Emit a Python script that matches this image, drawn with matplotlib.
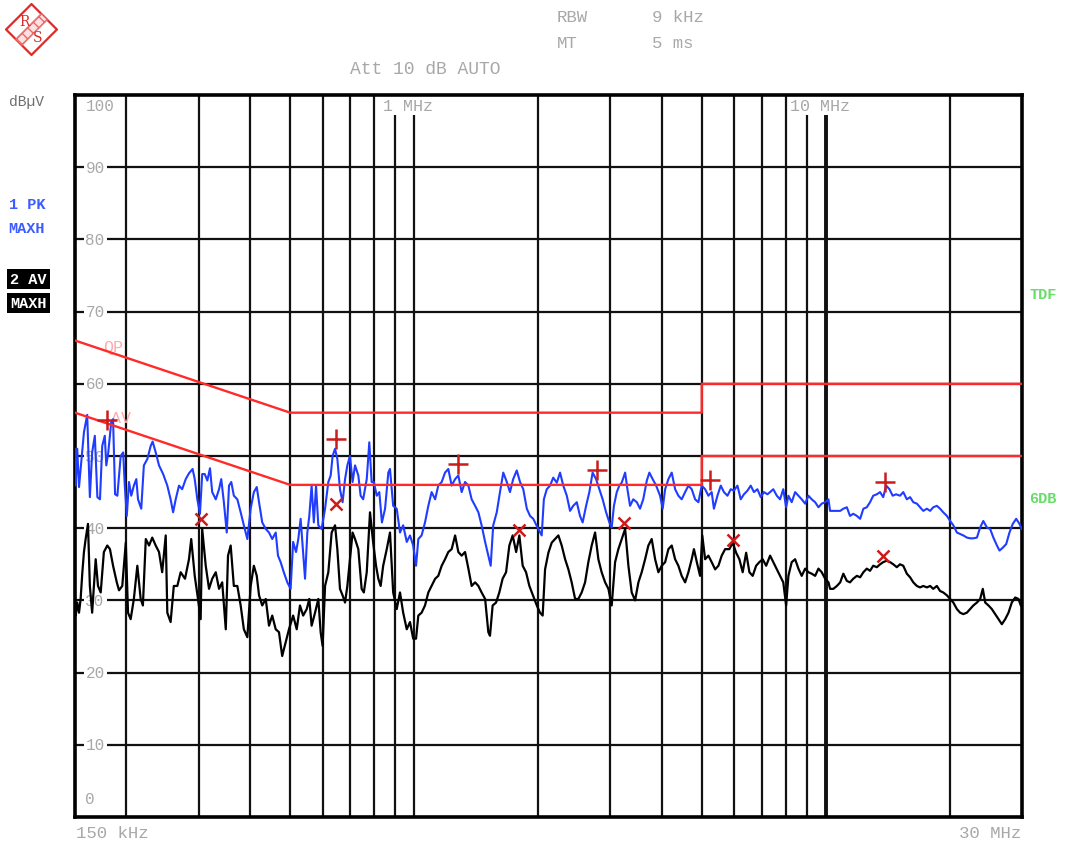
import matplotlib
matplotlib.use("Agg")
import matplotlib.pyplot as plt
from matplotlib.patches import Polygon
import matplotlib.transforms as mtrans

# ---------------- data ----------------
pk_freq_mhz = [0.1500, 0.1506, 0.1519, 0.1534, 0.1553, 0.1577, 0.1606, 0.1630, 0.1651, 0.1676,
               0.1700, 0.1725, 0.1747, 0.1772, 0.1787, 0.1807, 0.1837, 0.1856, 0.1877, 0.1901,
               0.1937, 0.1964, 0.1982, 0.2004, 0.2029, 0.2055, 0.2085, 0.2114, 0.2134, 0.2173,
               0.2205, 0.2249, 0.2291, 0.2316, 0.2356, 0.2400, 0.2456, 0.2514, 0.2561, 0.2597,
               0.2635, 0.2684, 0.2732, 0.2787, 0.2838, 0.2896, 0.2931, 0.2974, 0.3018, 0.3056,
               0.3100, 0.3145, 0.3192, 0.3232, 0.3297, 0.3358, 0.3400, 0.3450, 0.3506, 0.3551,
               0.3596, 0.3648, 0.3720, 0.3790, 0.3858, 0.3934, 0.4008, 0.4080, 0.4147, 0.4200,
               0.4276, 0.4361, 0.4441, 0.4522, 0.4611, 0.4670, 0.4740, 0.4824, 0.4920, 0.5012,
               0.5083, 0.5166, 0.5232, 0.5301, 0.5358, 0.5433, 0.5503, 0.5564, 0.5637, 0.5707,
               0.5778, 0.5852, 0.5961, 0.6077, 0.6189, 0.6271, 0.6339, 0.6426, 0.6509, 0.6606,
               0.6703, 0.6796, 0.6884, 0.6986, 0.7089, 0.7187, 0.7320, 0.7416, 0.7521, 0.7673,
               0.7784, 0.7886, 0.7984, 0.8114, 0.8232, 0.8353, 0.8501, 0.8658, 0.8739, 0.8896,
               0.9075, 0.9242, 0.9408, 0.9598, 0.9774, 0.9950, 1.011, 1.024, 1.043, 1.063,
               1.083, 1.103, 1.125, 1.145, 1.167, 1.189, 1.211, 1.234, 1.258, 1.281,
               1.305, 1.330, 1.355, 1.380, 1.407, 1.433, 1.459, 1.488, 1.515, 1.535,
               1.557, 1.588, 1.617, 1.647, 1.680, 1.710, 1.741, 1.776, 1.809, 1.842,
               1.879, 1.913, 1.948, 1.987, 2.042, 2.067, 2.101, 2.140, 2.178, 2.222,
               2.263, 2.304, 2.350, 2.393, 2.436, 2.485, 2.530, 2.568, 2.618, 2.666,
               2.715, 2.768, 2.819, 2.872, 2.928, 2.982, 3.021, 3.059, 3.108, 3.153,
               3.195, 3.257, 3.299, 3.348, 3.408, 3.477, 3.540, 3.604, 3.677, 3.730,
               3.799, 3.874, 3.960, 4.018, 4.074, 4.149, 4.227, 4.308, 4.387, 4.469,
               4.556, 4.640, 4.727, 4.818, 4.907, 4.999, 5.095, 5.189, 5.286, 5.352,
               5.459, 5.561, 5.661, 5.773, 5.881, 5.986, 6.105, 6.219, 6.331, 6.456,
               6.577, 6.695, 6.827, 6.955, 7.080, 7.221, 7.329, 7.461, 7.610, 7.749,
               7.889, 8.017, 8.120, 8.271, 8.431, 8.587, 8.747, 8.917, 9.082, 9.251,
               9.430, 9.605, 9.784, 9.973, 10.16, 10.25, 10.55, 10.85, 11.04, 11.26,
               11.46, 11.67, 11.91, 12.13, 12.35, 12.59, 12.82, 13.05, 13.32, 13.56,
               13.80, 14.03, 14.29, 14.55, 14.83, 15.16, 15.44, 15.75, 16.04, 16.33,
               16.66, 16.96, 17.27, 17.62, 17.94, 18.26, 18.63, 18.97, 19.31, 19.71,
               20.07, 20.43, 20.84, 21.22, 21.60, 22.04, 22.44, 22.85, 23.31, 23.74,
               24.16, 24.65, 25.10, 25.56, 26.08, 26.45, 26.94, 27.46, 27.97, 28.49,
               29.04, 29.58, 29.95]
pk_level_dbuv = [51.0, 45.9, 51.0, 45.7, 49.1, 53.3, 55.7, 44.3, 50.5, 52.8,
                 44.3, 44.0, 51.4, 52.8, 48.7, 50.5, 54.7, 55.1, 44.7, 44.5,
                 50.0, 50.5, 45.9, 41.7, 46.4, 44.5, 45.9, 46.8, 44.0, 42.7,
                 48.7, 49.6, 51.4, 52.0, 50.5, 48.7, 47.5, 45.9, 44.0, 42.2,
                 44.0, 45.9, 45.4, 46.8, 47.6, 48.2, 46.8, 44.0, 42.0, 47.5,
                 47.5, 46.6, 48.3, 45.0, 44.0, 45.4, 46.8, 43.6, 39.4, 45.9,
                 46.4, 44.5, 44.0, 42.2, 40.4, 38.5, 42.7, 45.0, 45.7, 43.6,
                 40.8, 39.9, 39.4, 38.5, 39.4, 36.2, 35.3, 33.9, 32.5, 31.6,
                 38.1, 36.7, 38.5, 41.3, 37.6, 33.0, 39.4, 41.7, 45.9, 40.8,
                 45.9, 40.4, 39.9, 42.7, 46.4, 47.3, 50.0, 51.0, 49.6, 45.4,
                 43.6, 46.8, 48.7, 50.0, 46.4, 48.7, 47.3, 44.5, 44.0, 46.8,
                 51.9, 46.4, 46.4, 44.5, 45.0, 40.8, 42.7, 47.7, 48.2, 43.1,
                 42.7, 39.4, 40.4, 38.1, 39.0, 37.6, 34.8, 38.5, 39.0, 40.8,
                 43.1, 45.0, 44.0, 45.9, 46.4, 47.7, 48.2, 45.9, 46.8, 47.3,
                 45.0, 46.4, 45.9, 44.0, 43.1, 42.2, 40.4, 38.1, 36.2, 34.8,
                 40.4, 42.2, 45.0, 47.7, 46.4, 45.0, 46.8, 48.0, 46.4, 45.4,
                 42.7, 41.7, 41.3, 40.3, 39.0, 44.0, 45.4, 45.9, 47.0, 46.3,
                 47.7, 45.9, 44.5, 42.4, 43.1, 43.6, 41.7, 40.8, 43.1, 45.0,
                 47.7, 46.8, 45.4, 44.0, 42.2, 40.8, 40.1, 43.1, 45.0, 45.9,
                 46.3, 47.7, 45.4, 43.1, 44.0, 43.6, 42.7, 44.0, 46.6, 47.7,
                 46.8, 45.9, 44.5, 42.7, 45.4, 46.8, 47.7, 45.4, 44.5, 44.0,
                 45.0, 45.9, 45.4, 44.0, 43.6, 45.9, 45.4, 44.5, 45.0, 42.7,
                 44.5, 45.9, 45.0, 44.5, 45.4, 45.2, 45.9, 44.0, 44.7, 45.2,
                 45.9, 45.0, 45.4, 44.3, 45.0, 44.7, 45.0, 45.4, 44.5, 44.0,
                 45.4, 42.9, 44.5, 43.6, 45.0, 44.5, 44.0, 43.4, 44.5, 44.0,
                 43.6, 42.9, 43.4, 43.6, 44.0, 42.4, 42.4, 42.4, 42.7, 42.9,
                 41.7, 42.0, 41.7, 41.3, 42.7, 42.9, 43.6, 44.5, 44.7, 45.0,
                 44.3, 45.9, 45.4, 44.5, 44.7, 44.5, 45.0, 44.0, 44.3, 43.6,
                 43.4, 42.9, 42.4, 42.7, 42.4, 42.9, 43.1, 42.7, 42.2, 41.7,
                 41.0, 40.4, 39.4, 39.2, 39.0, 38.7, 38.6, 38.6, 38.7, 40.1,
                 41.0, 40.1, 39.9, 38.7, 37.6, 36.9, 37.3, 37.8, 39.4, 40.6,
                 41.3, 40.6, 39.9]

av_freq_mhz = [0.1500, 0.1506, 0.1519, 0.1534, 0.1548, 0.1563, 0.1577, 0.1592, 0.1613, 0.1630,
               0.1651, 0.1684, 0.1706, 0.1732, 0.1763, 0.1797, 0.1824, 0.1856, 0.1895, 0.1919,
               0.1954, 0.1993, 0.2018, 0.2048, 0.2085, 0.2126, 0.2166, 0.2193, 0.2229, 0.2270,
               0.2311, 0.2356, 0.2400, 0.2443, 0.2492, 0.2514, 0.2561, 0.2607, 0.2659, 0.2709,
               0.2776, 0.2838, 0.2874, 0.2931, 0.2985, 0.3030, 0.3056, 0.3117, 0.3175, 0.3232,
               0.3297, 0.3358, 0.3418, 0.3487, 0.3531, 0.3584, 0.3648, 0.3720, 0.3790, 0.3858,
               0.3934, 0.4008, 0.4080, 0.4147, 0.4200, 0.4276, 0.4361, 0.4441, 0.4522, 0.4611,
               0.4696, 0.4781, 0.4876, 0.4966,
               0.5083, 0.5186, 0.5281, 0.5376, 0.5485, 0.5564, 0.5637, 0.5746, 0.5852, 0.5929,
               0.5994, 0.6077, 0.6189, 0.6305, 0.6426, 0.6509, 0.6606, 0.6703, 0.6796, 0.6884,
               0.6986, 0.7089, 0.7187, 0.7320, 0.7457, 0.7549, 0.7673, 0.7814, 0.7954, 0.8083,
               0.8187, 0.8294, 0.8412, 0.8582, 0.8739, 0.8896, 0.9075, 0.9242, 0.9408, 0.9598,
               0.9774, 0.9950, 1.011, 1.024, 1.043, 1.063, 1.083, 1.103, 1.125, 1.145,
               1.167, 1.189, 1.211, 1.234, 1.258, 1.281, 1.305, 1.330, 1.355, 1.380,
               1.407, 1.433, 1.459, 1.488, 1.515, 1.529, 1.552, 1.582, 1.611, 1.641,
               1.673, 1.704, 1.736, 1.770, 1.802, 1.836, 1.871, 1.906,
               1.948, 1.987, 2.023, 2.053, 2.081, 2.120, 2.160, 2.201, 2.242, 2.284,
               2.328, 2.371, 2.415, 2.462, 2.507, 2.554, 2.603, 2.651, 2.701, 2.753,
               2.804, 2.856, 2.912, 2.966, 3.021, 3.079, 3.136, 3.195, 3.257, 3.317,
               3.379, 3.444, 3.508, 3.573, 3.642, 3.709, 3.779, 3.852, 3.923, 3.997,
               4.074, 4.149, 4.227, 4.308, 4.387, 4.469, 4.556, 4.640, 4.727, 4.786,
               4.864, 4.953, 5.015, 5.095, 5.189, 5.286, 5.389, 5.489, 5.591, 5.699,
               5.836, 5.945, 6.061, 6.172, 6.287, 6.410, 6.528, 6.649, 6.778, 6.902,
               7.031, 7.169,
               7.329, 7.461, 7.610, 7.749, 7.889, 8.017, 8.120, 8.271, 8.431, 8.587,
               8.747, 8.917, 9.082, 9.251, 9.430, 9.605, 9.784, 9.973, 10.16, 10.25,
               10.44, 10.65, 10.85, 11.04, 11.26, 11.46, 11.67, 11.91, 12.13, 12.35,
               12.59, 12.82, 13.05, 13.32, 13.56, 13.80, 14.08, 14.34, 14.60, 14.89,
               15.16, 15.44, 15.75, 16.04, 16.33, 16.66, 16.96, 17.27, 17.62, 17.94,
               18.26, 18.63, 18.97, 19.31, 19.71, 20.07, 20.43, 20.84, 21.22, 21.60,
               22.04, 22.44, 22.85, 23.31, 23.74, 24.09, 24.42, 24.87, 25.34, 25.83,
               26.31, 26.80, 27.31, 27.82, 28.33, 28.88, 29.41, 29.80]
av_level_dbuv = [30.2, 27.9, 29.7, 28.3, 30.2, 33.9, 36.7, 38.5, 40.6, 32.0,
                 28.3, 35.7, 32.0, 31.1, 36.7, 37.6, 37.1, 34.8, 32.5, 31.4,
                 32.0, 38.0, 28.3, 27.4, 30.2, 34.8, 30.2, 29.3, 38.5, 37.6,
                 38.7, 37.6, 36.7, 33.9, 39.0, 28.3, 27.0, 32.0, 32.0, 33.9,
                 33.0, 35.7, 38.5, 33.4, 30.2, 27.4, 39.9, 34.8, 31.6, 33.0,
                 33.9, 31.6, 32.5, 26.0, 36.2, 37.6, 32.0, 32.0, 29.3, 26.0,
                 24.9, 32.0, 34.8, 33.4, 30.7, 29.3, 30.2, 26.5, 27.9, 26.0,
                 25.6, 22.3, 24.2, 26.0,
                 27.9, 26.0, 29.3, 27.9, 28.8, 30.2, 26.5, 28.3, 30.2, 25.6,
                 23.7, 32.0, 33.9, 39.4, 40.4, 37.1, 31.6, 30.7, 29.7, 32.0,
                 35.7, 39.4, 38.5, 37.1, 31.6, 31.1, 33.9, 42.2, 38.0, 34.8,
                 33.0, 32.0, 34.8, 37.1, 39.4, 31.1, 28.8, 31.1, 28.3, 26.0,
                 27.0, 24.7, 24.7, 27.9, 28.3, 29.3, 31.1, 32.0, 33.0, 33.4,
                 34.8, 35.7, 36.7, 37.1, 39.0, 36.7, 36.2, 36.7, 34.4, 32.0,
                 32.5, 32.0, 31.1, 30.2, 25.6, 25.1, 29.3, 29.7, 31.1, 33.0,
                 33.9, 37.6, 39.0, 36.7, 39.0, 34.8, 33.9, 32.0,
                 30.6, 29.3, 28.3, 27.9, 34.3, 36.6, 38.0, 38.5, 39.0, 37.6,
                 35.7, 34.3, 32.5, 30.2, 30.2, 31.1, 32.5, 35.3, 37.6, 39.4,
                 35.7, 33.9, 32.5, 31.6, 29.3, 35.3, 37.1, 38.5, 39.9, 34.8,
                 31.1, 30.0, 32.5, 33.9, 35.7, 37.6, 38.5, 35.7, 33.9, 34.8,
                 35.3, 37.1, 37.6, 35.7, 34.8, 33.4, 32.5, 33.9, 35.7, 37.1,
                 35.3, 33.4, 39.0, 35.7, 36.2, 35.3, 34.3, 34.8, 36.2, 37.1,
                 37.1, 38.0, 36.6, 35.7, 33.9, 36.6, 33.9, 33.4, 34.8, 35.3,
                 35.7, 34.8,
                 36.2, 35.3, 34.3, 33.4, 32.5, 29.3, 33.4, 35.3, 35.7, 34.4,
                 33.4, 34.4, 33.9, 33.7, 33.4, 34.4, 33.9, 33.0, 32.5, 31.6,
                 31.6, 32.0, 32.5, 33.7, 32.7, 32.5, 33.0, 33.4, 33.2, 33.9,
                 34.4, 34.1, 34.8, 34.6, 35.0, 35.3, 35.5, 35.3, 35.0, 34.6,
                 35.0, 34.8, 33.7, 33.2, 32.5, 32.0, 31.8, 32.0, 31.8, 32.0,
                 31.6, 32.0, 31.3, 31.1, 30.7, 30.2, 29.7, 28.8, 28.3, 28.1,
                 28.3, 28.8, 29.3, 29.7, 30.2, 31.6, 29.7, 29.3, 28.8, 28.1,
                 27.4, 26.7, 27.4, 28.3, 29.7, 30.4, 30.2, 29.3]

qp_limit_freq_mhz = [0.15, 0.5, 5.0, 5.0, 30.0]
qp_limit_dbuv = [66, 56, 56, 60, 60]
av_limit_freq_mhz = [0.15, 0.5, 5.0, 5.0, 30.0]
av_limit_dbuv = [56, 46, 46, 50, 50]

pk_marker_freq_mhz = [0.1797, 0.6451, 1.281, 2.779, 5.238, 13.95]
pk_marker_dbuv = [55.0, 52.3, 48.9, 48.1, 46.7, 46.4]
av_marker_freq_mhz = [0.3030, 0.6451, 1.796, 3.234, 5.945, 13.80]
av_marker_dbuv = [41.3, 43.4, 39.8, 40.7, 38.3, 36.1]

grid_freq_mhz = [0.2, 0.3, 0.4, 0.5, 0.6, 0.7, 0.8, 0.9, 1, 2, 3, 4, 5, 6, 7, 8, 9, 10, 20]
grid_level_dbuv = [10, 20, 30, 40, 50, 60, 70, 80, 90]
level_labels = ["100", "90", "80", "70", "60", "50", "40", "30", "20", "10", "0"]
level_label_values = [100, 90, 80, 70, 60, 50, 40, 30, 20, 10, 0]

# ---------------- figure ----------------
W, H = 1067, 845
fig = plt.figure(figsize=(W / 100, H / 100), dpi=100)
fig.patch.set_facecolor("white")
MONO = ["Liberation Mono", "DejaVu Sans Mono"]
GREY = "#a8a8a8"

L, R, T, B = 75, 1022, 96, 818
ax = fig.add_axes([L / W, 1 - B / H, (R - L) / W, (B - T) / H])
ax.set_xscale("log")
ax.set_xlim(0.15, 30)
ax.set_ylim(0, 100)
ax.tick_params(which="both", bottom=False, left=False, top=False, right=False,
               labelbottom=False, labelleft=False)
for s in ax.spines.values():
    s.set_linewidth(2.6)
    s.set_color("black")

for f in grid_freq_mhz:
    ax.axvline(f, color="#111111", lw=2.8 if f == 10 else 1.6, zorder=1)
for v in grid_level_dbuv:
    ax.axhline(v, color="#111111", lw=1.6, zorder=1)

# level labels inside the plot
blend = mtrans.blended_transform_factory(ax.transAxes, ax.transData)
for lab, v in zip(level_labels, level_label_values):
    yv = v
    if v == 100:
        yv = 98.5
    elif v == 0:
        yv = 2.5
    ax.text(0.011, yv, lab, transform=blend, ha="left", va="center", fontsize=11.5,
            family=MONO, color=GREY, zorder=2,
            bbox=dict(boxstyle="square,pad=0.12", fc="white", ec="none"))

# frequency labels at the top
for xf, lab in [(0.325, "1 MHz"), (0.755, "10 MHz")]:
    ax.text(xf, 0.985, lab, transform=ax.transAxes, ha="left", va="center",
            fontsize=12, family=MONO, color=GREY, zorder=2,
            bbox=dict(boxstyle="square,pad=0.12", fc="white", ec="none"))

# limit line labels
ax.text(0.030, 0.652, "QP", transform=ax.transAxes, ha="left", va="center",
        fontsize=12, family=MONO, color="#ffaaaa", zorder=2.5)
ax.text(0.038, 0.554, "AV", transform=ax.transAxes, ha="left", va="center",
        fontsize=12, family=MONO, color="#ffaaaa", zorder=2.5)

# traces
ax.plot(pk_freq_mhz, pk_level_dbuv, color="#1f3cff", lw=1.5, zorder=3)
ax.plot(av_freq_mhz, av_level_dbuv, color="black", lw=1.6, zorder=3)

# limit lines
ax.plot(qp_limit_freq_mhz, qp_limit_dbuv, color="#ff2a2a", lw=1.7, zorder=4)
ax.plot(av_limit_freq_mhz, av_limit_dbuv, color="#ff2a2a", lw=1.7, zorder=4)

# markers
ax.plot(pk_marker_freq_mhz, pk_marker_dbuv, ls="none", marker="+", ms=15, mew=1.8,
        color="#cc1b1b", zorder=5)
ax.plot(av_marker_freq_mhz, av_marker_dbuv, ls="none", marker="x", ms=8, mew=1.8,
        color="#cc1b1b", zorder=5)


def ftext(x, y, s, **kw):
    kw.setdefault("family", MONO)
    kw.setdefault("va", "center")
    return fig.text(x / W, 1 - y / H, s, **kw)


# header
ftext(557, 17, "RBW", fontsize=12.5, color=GREY)
ftext(652, 17, "9 kHz", fontsize=12.5, color=GREY)
ftext(557, 44, "MT", fontsize=12.5, color=GREY)
ftext(652, 44, "5 ms", fontsize=12.5, color=GREY)
ftext(350, 70, "Att 10 dB AUTO", fontsize=13, color=GREY)

# left side legend
ftext(9, 102, "dBµV", fontsize=10.5, color="#6e6e6e")
ftext(9, 205, "1 PK", fontsize=11, color="#3c5cff", weight="bold")
ftext(8, 229, "MAXH", fontsize=11, color="#3c5cff", weight="bold")
ftext(10, 280, "2 AV", fontsize=11, color="white", weight="bold",
      bbox=dict(boxstyle="square,pad=0.2", fc="black", ec="none"))
ftext(10, 304, "MAXH", fontsize=11, color="white", weight="bold",
      bbox=dict(boxstyle="square,pad=0.2", fc="black", ec="none"))

# right side labels
ftext(1029, 295, "TDF", fontsize=11, color="#66dd66", weight="bold")
ftext(1029, 499, "6DB", fontsize=11, color="#66dd66", weight="bold")

# bottom labels
ftext(76, 834, "150 kHz", fontsize=12.5, color=GREY)
ftext(1021, 834, "30 MHz", fontsize=12.5, color=GREY, ha="right")

# R&S logo
lax = fig.add_axes([5 / W, 1 - 57 / H, 53 / W, 53 / H])
lax.set_xlim(0, 1)
lax.set_ylim(0, 1)
lax.axis("off")
lax.add_patch(Polygon([(0.5, 0.98), (0.98, 0.5), (0.5, 0.02), (0.02, 0.5)], closed=True,
                      fc="white", ec="#dd2a2a", lw=1.6, zorder=1))
lax.add_patch(Polygon([(0.68, 0.80), (0.80, 0.68), (0.32, 0.20), (0.20, 0.32)], closed=True,
                      fc="#ffe0e0", ec="#e46a6a", lw=0.6, hatch="xxx", zorder=2))
lax.text(0.36, 0.66, "R", ha="center", va="center", fontsize=10, color="#dd2a2a",
         family="DejaVu Serif", zorder=3)
lax.text(0.62, 0.36, "S", ha="center", va="center", fontsize=10, color="#dd2a2a",
         family="DejaVu Serif", zorder=3)

fig.savefig("out.png", dpi=100, facecolor="white")
